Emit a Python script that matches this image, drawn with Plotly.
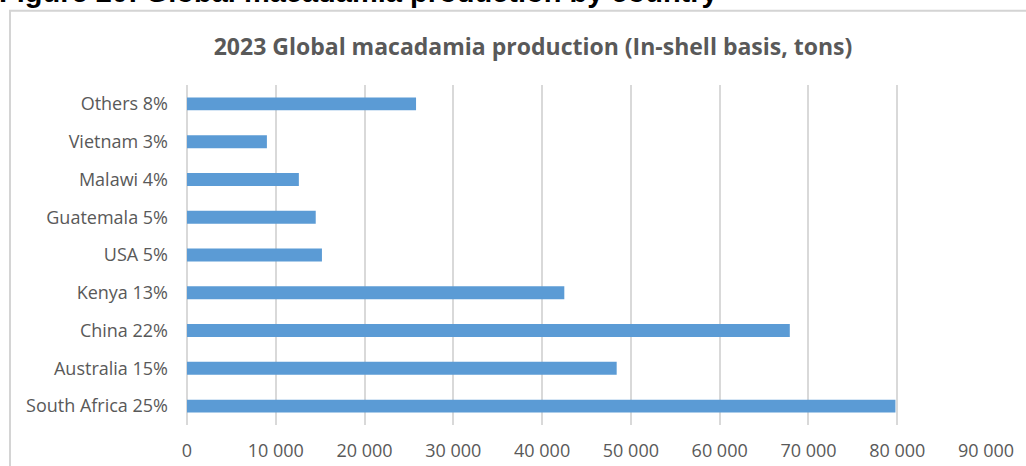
import plotly.graph_objects as go

categories = ["South Africa 25%", "Australia 15%", "China 22%", "Kenya 13%", "USA 5%",
              "Guatemala 5%", "Malawi 4%", "Vietnam 3%", "Others 8%"]
production_tons = [79800, 48400, 67900, 42500, 15200, 14500, 12600, 9000, 25800]
x_ticks = [0, 10000, 20000, 30000, 40000, 50000, 60000, 70000, 80000, 90000]

W, H = 1026, 466
L, R, T, B = 187, 40, 84.5, 40.5
pw, ph = W - L - R, H - T - B

def px(X):
    return (X - L) / pw

def py(Y):
    return (H - B - Y) / ph

fig = go.Figure(go.Bar(
    x=production_tons, y=categories, orientation="h",
    marker=dict(color="#5B9BD5", line=dict(width=0)),
))

fig.update_layout(
    width=W, height=H,
    margin=dict(l=L, r=R, t=T, b=B, pad=0, autoexpand=False),
    paper_bgcolor="white", plot_bgcolor="white",
    separators=". ",
    bargap=0.657,
    showlegend=False,
    font=dict(family="Open Sans", color="#595959", size=18),
    title=dict(
        text="<b>2023 Global macadamia production (In-shell basis, tons)</b>",
        x=533 / W, xref="container", xanchor="center",
        y=1 - 47 / H, yref="container", yanchor="middle",
        font=dict(family="Open Sans", size=23, color="#595959"),
        automargin=False,
    ),
    xaxis=dict(
        range=[0, 90000], tickvals=x_ticks, tickformat=",d",
        showgrid=True, gridcolor="#d9d9d9", gridwidth=2,
        zeroline=True, zerolinecolor="#d9d9d9", zerolinewidth=2,
        showline=False, ticks="", ticklabelstandoff=13,
        tickfont=dict(size=18, color="#595959"),
        automargin=False,
    ),
    yaxis=dict(
        showgrid=False, zeroline=False, showline=False, ticks="",
        ticklabelstandoff=18,
        tickfont=dict(size=18, color="#595959"),
        automargin=False,
    ),
    shapes=[dict(
        type="rect", xref="paper", yref="paper",
        x0=px(10), x1=px(W + 10), y0=py(H + 10), y1=py(10),
        line=dict(color="#d4d4d4", width=2), fillcolor="rgba(0,0,0,0)",
    )],
    annotations=[dict(
        text="<b>Figure 20: Global macadamia production by country</b>",
        xref="paper", yref="paper", x=px(-3), y=py(-9),
        xanchor="left", yanchor="middle", showarrow=False,
        font=dict(family="Liberation Sans", size=29, color="black"),
    )],
)

fig.write_html("out.html")
